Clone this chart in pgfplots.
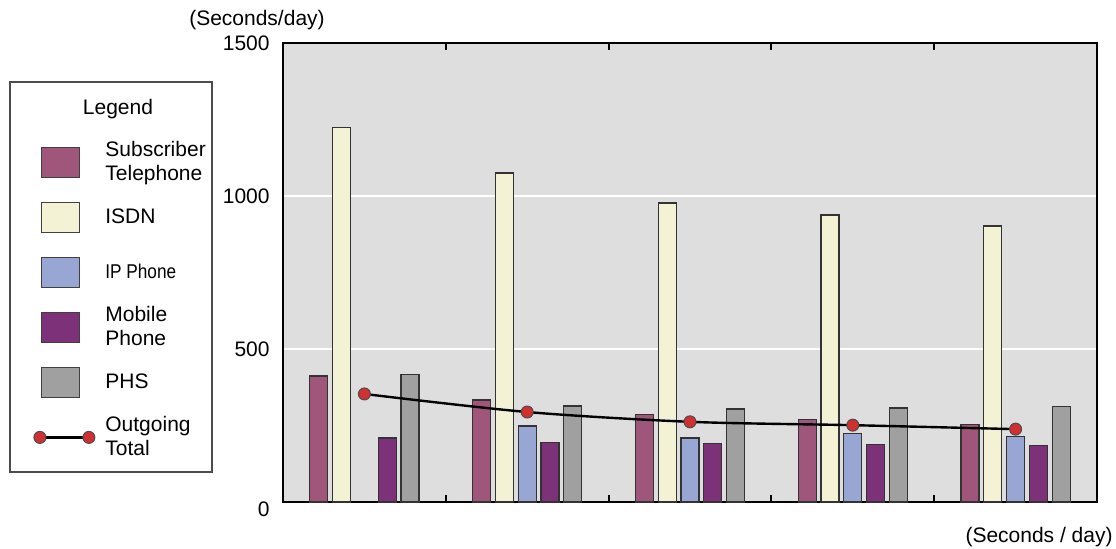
\documentclass[border=0pt]{standalone}
\usepackage{fontspec}
\setmainfont{Liberation Sans}
\usepackage{graphicx}
\usepackage{pgfplots}
\pgfplotsset{compat=1.18}
\definecolor{stcol}{HTML}{A0567A}
\definecolor{isdncol}{HTML}{F3F2D5}
\definecolor{ipcol}{HTML}{98A6D3}
\definecolor{mobcol}{HTML}{7D3179}
\definecolor{phscol}{HTML}{A0A0A0}
\definecolor{bgcol}{HTML}{DEDEDE}
\definecolor{mkcol}{HTML}{D03030}
\pgfplotsset{
  swatch/.style={legend image code/.code={%
    \path[draw=none, fill=none] (0pt,-13.75pt) rectangle (20pt,13.75pt);
    \draw[fill=#1, draw=black!75, line width=0.6pt] (1pt,-7.5pt) rectangle (20pt,7.5pt);}},
  mybar/.style={ybar, bar width=0.11, draw=black!80, line width=0.6pt, fill=#1, swatch=#1},
}
\begin{document}
\begin{tikzpicture}[font=\fontsize{10.5}{12}\selectfont]
\useasboundingbox (-141.5pt,-23.5pt) rectangle (416.5pt,251pt);
% legend frame and title
\draw[black!70, line width=0.6pt, fill=white] (-136.5pt,15pt) rectangle (-35.5pt,210pt);
\node at (-82.5pt,196.5pt) {Legend};
\begin{axis}[
  scale only axis, width=407pt, height=229.5pt,
  xmin=0.5, xmax=5.5, ymin=0, ymax=1500,
  axis background/.style={fill=bgcol},
  axis line style={line width=1.4pt},
  xtick={1.5,2.5,3.5,4.5}, xticklabels={},
  major tick length=3.5pt,
  xtick style={black, line width=1pt},
  ytick={500,1000,1500},
  extra y ticks={0},
  extra y tick style={grid=none, yticklabel style={yshift=-3.5pt}},
  ytick style={draw=none},
  yticklabel style={inner sep=0pt, xshift=-6.5pt},
  /pgf/number format/assume math mode=true,
  /pgf/number format/1000 sep={},
  ymajorgrids, grid style={white, line width=1pt},
  xlabel={(Seconds / day)},
  xlabel style={at={(rel axis cs:1,0)}, anchor=east, inner sep=0pt, xshift=8pt, yshift=-17.5pt},
  legend style={at={(axis description cs:-0.30713,0.80065)}, anchor=north west,
    draw=none, fill=none, inner sep=0pt, column sep=3pt, row sep=0pt,
    cells={anchor=west, align=left, inner sep=0pt},
    font=\fontsize{10.5}{12}\selectfont},
  clip=false,
]
\addplot[mybar=stcol, bar shift=-0.28] coordinates {(1,412) (2,333) (3,287) (4,270) (5,254)};
\addlegendentry{Subscriber\\Telephone}
\addplot[mybar=isdncol, bar shift=-0.14] coordinates {(1,1225) (2,1075) (3,977) (4,938) (5,902)};
\addlegendentry{ISDN}
\addplot[mybar=ipcol, bar shift=0] coordinates {(2,248) (3,209) (4,224) (5,213)};
\addlegendentry{\scalebox{0.82}[0.95]{IP Phone}}
\addplot[mybar=mobcol, bar shift=0.14] coordinates {(1,209) (2,194) (3,191) (4,188) (5,185)};
\addlegendentry{Mobile\\Phone}
\addplot[mybar=phscol, bar shift=0.28] coordinates {(1,417) (2,314) (3,304) (4,307) (5,313)};
\addlegendentry{PHS}
\addplot[black, line width=1.2pt, smooth, mark=*, mark size=3pt,
  mark options={fill=mkcol, draw=black!70, line width=0.5pt},
  legend image code/.code={%
    \path[draw=none, fill=none] (0pt,-13.75pt) rectangle (20pt,13.75pt);
    \draw[black, line width=1.2pt] (0pt,0pt) -- (24.5pt,0pt);
    \draw[fill=mkcol, draw=black!70, line width=0.5pt] (0pt,0pt) circle (3pt) (24.5pt,0pt) circle (3pt);}]
  coordinates {(1,353) (2,294) (3,262) (4,251) (5,238)};
\addlegendentry{Outgoing\\Total}
\node at (rel axis cs:0,1) [xshift=-13pt, yshift=11.5pt] {(Seconds/day)};
\end{axis}
\end{tikzpicture}
\end{document}
